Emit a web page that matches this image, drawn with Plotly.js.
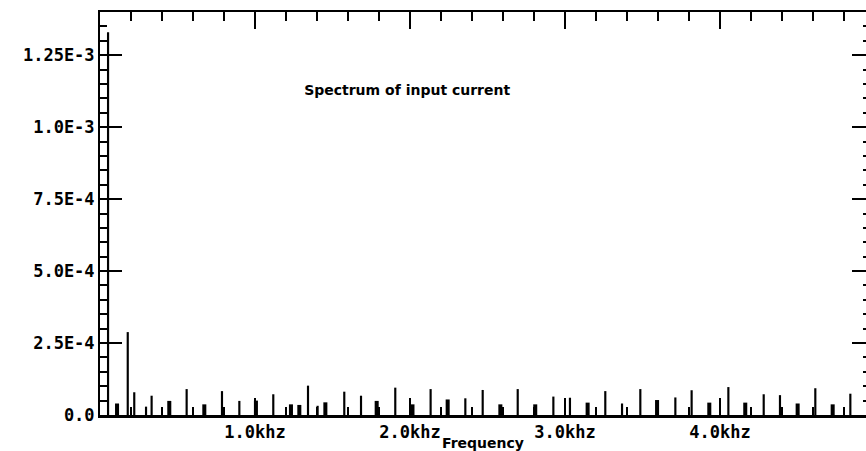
<!DOCTYPE html>
<html>
<head>
<meta charset="utf-8">
<script src="https://cdn.plot.ly/plotly-3.0.1.min.js"></script>
<style>
html,body{margin:0;padding:0;background:#fff;}
#chart{width:866px;height:451px;}
</style>
</head>
<body>
<div id="chart"></div>
<script>
// Narrow spectral lines (Hz, amplitude)
const freqNarrow = [52, 179, 221, 297, 333, 559, 787, 899, 1118, 1342, 1404, 1576, 1684, 1905, 2133, 2357, 2469, 2695, 2925, 3032, 3260, 3368, 3486, 3712, 3817, 4054, 4282, 4387, 4615, 4841];
const ampNarrow = [1.33e-3, 2.88e-4, 7.9e-5, 2.9e-5, 6.7e-5, 9.0e-5, 8.3e-5, 4.9e-5, 7.2e-5, 1.02e-4, 3.2e-5, 8.1e-5, 6.7e-5, 9.5e-5, 9.0e-5, 5.8e-5, 8.7e-5, 9.0e-5, 6.4e-5, 6.0e-5, 8.3e-5, 4.0e-5, 9.0e-5, 6.1e-5, 8.6e-5, 9.7e-5, 7.2e-5, 6.9e-5, 9.3e-5, 7.4e-5];
// Broader spectral clusters (Hz, amplitude)
const freqBroad = [110, 447, 673, 1006, 1232, 1286, 1454, 1785, 2016, 2243, 2583, 2808, 3146, 3594, 3931, 4163, 4501, 4727];
const ampBroad = [4.0e-5, 4.9e-5, 3.7e-5, 5.0e-5, 3.7e-5, 3.5e-5, 4.4e-5, 4.9e-5, 3.7e-5, 5.4e-5, 3.7e-5, 3.7e-5, 4.3e-5, 5.2e-5, 4.3e-5, 4.3e-5, 4.0e-5, 3.7e-5];

const xTickVals = [1000, 2000, 3000, 4000];
const xTickText = ["1.0khz", "2.0khz", "3.0khz", "4.0khz"];
const yTickVals = [0, 2.5e-4, 5.0e-4, 7.5e-4, 1.0e-3, 1.25e-3];
const yTickText = ["0.0", "2.5E-4", "5.0E-4", "7.5E-4", "1.0E-3", "1.25E-3"];

const chartTitle = "Spectrum of input current";
const xTitle = "Frequency";

const xRange = [0, 4942];
const yRange = [0, 1.4e-3];

const tickFont = {family: "DejaVu Sans Mono", size: 17, color: "#000", weight: "bold"};
const textFont = {family: "DejaVu Sans", size: 14, color: "#000", weight: "bold"};

const traces = [
  {type: "bar", x: freqNarrow, y: ampNarrow, width: 14, marker: {color: "#000", line: {width: 0}}, hoverinfo: "x+y", showlegend: false},
  {type: "bar", x: freqBroad, y: ampBroad, width: 26, marker: {color: "#000", line: {width: 0}}, hoverinfo: "x+y", showlegend: false},
  {type: "scatter", x: [], y: [], xaxis: "x2", yaxis: "y2", showlegend: false}
];

const layout = {
  width: 866, height: 451,
  margin: {l: 100, r: 0, t: 12, b: 36},
  paper_bgcolor: "#fff", plot_bgcolor: "#fff",
  barmode: "overlay",
  showlegend: false,
  title: {
    text: chartTitle,
    font: textFont,
    xref: "paper", yref: "paper", x: 0.401, y: 0.806, xanchor: "center", yanchor: "middle"
  },
  xaxis: {
    range: xRange, showgrid: false, zeroline: false,
    showline: true, linecolor: "#000", linewidth: 3,
    tickmode: "array", tickvals: xTickVals, ticktext: xTickText,
    ticks: "inside", ticklen: 17, tickwidth: 2, tickcolor: "#000",
    minor: {tickmode: "linear", tick0: 0, dtick: 200, ticks: "inside", ticklen: 8, tickwidth: 2, tickcolor: "#000", showgrid: false},
    tickfont: tickFont,
    title: {text: xTitle, font: textFont, standoff: 0}
  },
  yaxis: {
    range: yRange, showgrid: false, zeroline: false,
    showline: true, linecolor: "#000", linewidth: 2,
    tickmode: "array", tickvals: yTickVals, ticktext: yTickText,
    ticks: "inside", ticklen: 22, tickwidth: 2, tickcolor: "#000",
    minor: {tickmode: "linear", tick0: 0, dtick: 5e-5, ticks: "inside", ticklen: 7, tickwidth: 2, tickcolor: "#000", showgrid: false},
    tickfont: tickFont
  },
  xaxis2: {
    overlaying: "x", side: "top", anchor: "y2", matches: "x",
    range: xRange, showgrid: false, zeroline: false,
    showline: true, linecolor: "#000", linewidth: 2,
    tickmode: "array", tickvals: xTickVals, showticklabels: false,
    ticks: "inside", ticklen: 17, tickwidth: 2, tickcolor: "#000",
    minor: {tickmode: "linear", tick0: 0, dtick: 200, ticks: "inside", ticklen: 9, tickwidth: 2, tickcolor: "#000", showgrid: false}
  },
  yaxis2: {
    overlaying: "y", side: "right", anchor: "x2",
    range: yRange, showgrid: false, zeroline: false,
    showline: false,
    tickmode: "array", tickvals: yTickVals, showticklabels: false,
    ticks: "inside", ticklen: 14, tickwidth: 2, tickcolor: "#000",
    minor: {tickmode: "linear", tick0: 0, dtick: 5e-5, ticks: "inside", ticklen: 3, tickwidth: 2, tickcolor: "#000", showgrid: false}
  }
};

Plotly.newPlot("chart", traces, layout, {displayModeBar: false, staticPlot: true});
</script>
</body>
</html>
